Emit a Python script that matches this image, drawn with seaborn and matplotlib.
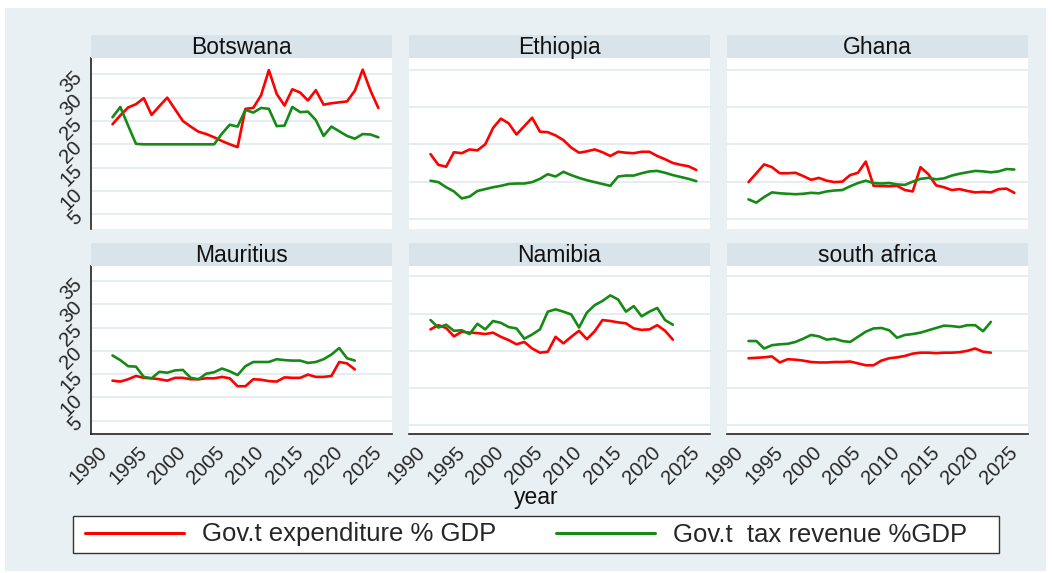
import matplotlib
matplotlib.use("Agg")
import matplotlib.pyplot as plt
import seaborn as sns
import pandas as pd
from matplotlib.patches import Rectangle
from matplotlib.lines import Line2D

# ---------------- data ----------------
countries = ["Botswana", "Ethiopia", "Ghana", "Mauritius", "Namibia", "south africa"]
series_names = ["Gov.t expenditure % GDP", "Gov.t  tax revenue %GDP"]
years_long = list(range(1991, 2026))
years_short = list(range(1991, 2023))
x_ticks = [1990, 1995, 2000, 2005, 2010, 2015, 2020, 2025]
y_ticks = [5, 10, 15, 20, 25, 30, 35]

botswana_exp = [24.3, 26.2, 27.9, 28.6, 29.9, 26.3, 28.2, 30.0, 27.5, 25.0,
                23.8, 22.7, 22.2, 21.5, 20.7, 20.0, 19.4, 27.6, 27.8, 30.5,
                35.9, 30.8, 28.3, 31.8, 31.1, 29.4, 31.6, 28.5, 28.8, 29.0,
                29.2, 31.5, 36.0, 31.5, 27.8]
botswana_tax = [25.8, 28.0, 24.0, 20.1, 20.0, 20.0, 20.0, 20.0, 20.0, 20.0,
                20.0, 20.0, 20.0, 20.0, 22.3, 24.2, 23.8, 27.4, 26.8, 27.8,
                27.6, 23.9, 24.0, 28.0, 26.9, 27.0, 25.2, 21.8, 23.8, 22.8,
                21.8, 21.2, 22.2, 22.1, 21.5]
ethiopia_exp = [17.9, 15.6, 15.2, 18.3, 18.1, 18.9, 18.7, 20.0, 23.5, 25.5,
                24.5, 22.1, 23.9, 25.7, 22.7, 22.6, 21.9, 20.9, 19.3, 18.2,
                18.5, 18.9, 18.3, 17.5, 18.4, 18.2, 18.1, 18.4, 18.4, 17.5,
                16.8, 16.0, 15.6, 15.3, 14.5]
ethiopia_tax = [12.2, 11.9, 10.8, 9.9, 8.4, 8.8, 10.0, 10.4, 10.8, 11.1,
                11.5, 11.6, 11.6, 11.9, 12.6, 13.6, 13.1, 14.1, 13.4, 12.8,
                12.3, 11.9, 11.5, 11.1, 13.1, 13.3, 13.3, 13.8, 14.2, 14.3,
                13.9, 13.4, 13.0, 12.6, 12.1]
ghana_exp = [11.9, 13.8, 15.7, 15.1, 13.8, 13.8, 13.9, 13.2, 12.4, 12.8,
             12.2, 11.9, 12.0, 13.4, 13.9, 16.3, 11.1, 11.05, 11.0, 11.1,
             10.2, 9.9, 15.1, 13.6, 11.2, 10.8, 10.2, 10.4, 10.0, 9.7,
             9.8, 9.7, 10.4, 10.5, 9.6]
ghana_tax = [8.2, 7.5, 8.7, 9.7, 9.5, 9.4, 9.3, 9.4, 9.6, 9.5,
             9.9, 10.1, 10.2, 11.0, 11.7, 12.2, 11.7, 11.6, 11.7, 11.4,
             11.3, 12.0, 12.6, 12.8, 12.5, 12.7, 13.3, 13.7, 14.0, 14.3,
             14.2, 14.0, 14.2, 14.7, 14.6]
mauritius_exp = [13.6, 13.4, 13.9, 14.6, 14.2, 14.1, 13.9, 13.6, 14.2, 14.2,
                 13.9, 13.9, 14.1, 14.1, 14.4, 14.1, 12.4, 12.4, 13.9, 13.8,
                 13.5, 13.4, 14.3, 14.2, 14.2, 14.9, 14.4, 14.4, 14.6, 17.6,
                 17.3, 16.0]
mauritius_tax = [19.0, 18.0, 16.7, 16.6, 14.4, 14.1, 15.5, 15.3, 15.8, 15.9,
                 14.2, 13.9, 15.1, 15.4, 16.2, 15.6, 14.8, 16.7, 17.6, 17.6,
                 17.6, 18.2, 18.0, 17.9, 17.9, 17.4, 17.6, 18.2, 19.2, 20.6,
                 18.4, 17.9]
namibia_exp = [24.6, 25.5, 24.9, 23.1, 24.1, 23.9, 23.8, 23.6, 23.9, 23.0,
               22.3, 21.4, 21.9, 20.5, 19.6, 19.8, 23.0, 21.6, 23.0, 24.3,
               22.5, 24.2, 26.6, 26.4, 26.1, 25.9, 24.8, 24.5, 24.6, 25.5,
               24.3, 22.4]
namibia_tax = [26.6, 25.0, 25.6, 24.3, 24.4, 23.6, 25.8, 24.6, 26.4, 26.0,
               25.1, 24.8, 22.6, 23.5, 24.6, 28.4, 28.9, 28.4, 27.8, 25.0,
               28.2, 29.8, 30.7, 31.9, 31.0, 28.4, 29.6, 27.4, 28.4, 29.2,
               26.6, 25.6]
southafrica_exp = [18.4, 18.5, 18.6, 18.8, 17.5, 18.2, 18.1, 17.9, 17.6, 17.5,
                   17.5, 17.6, 17.6, 17.7, 17.3, 16.9, 16.9, 17.9, 18.4, 18.6,
                   18.9, 19.4, 19.6, 19.6, 19.5, 19.6, 19.6, 19.7, 20.0, 20.5,
                   19.8, 19.6]
southafrica_tax = [22.1, 22.1, 20.5, 21.2, 21.4, 21.5, 21.9, 22.6, 23.4, 23.1,
                   22.4, 22.6, 22.1, 21.9, 23.0, 24.1, 24.8, 24.9, 24.4, 22.8,
                   23.4, 23.6, 23.9, 24.4, 24.9, 25.4, 25.3, 25.1, 25.5, 25.5,
                   24.2, 26.2]

panel_data = {
    "Botswana": (years_long, botswana_exp, botswana_tax),
    "Ethiopia": (years_long, ethiopia_exp, ethiopia_tax),
    "Ghana": (years_long, ghana_exp, ghana_tax),
    "Mauritius": (years_short, mauritius_exp, mauritius_tax),
    "Namibia": (years_short, namibia_exp, namibia_tax),
    "south africa": (years_short, southafrica_exp, southafrica_tax),
}

rows = []
for c, (yrs, e, t) in panel_data.items():
    for y, v in zip(yrs, e):
        rows.append((c, y, series_names[0], v))
    for y, v in zip(yrs, t):
        rows.append((c, y, series_names[1], v))
df = pd.DataFrame(rows, columns=["country", "year", "series", "value"])

# ---------------- style ----------------
sns.set_style("white")
plt.rcParams["font.family"] = ["Liberation Sans", "DejaVu Sans"]

W, H = 1052, 573
BG = "#E9F0F3"
STRIP = "#D8E3EA"
GRID = "#E4ECEF"
RED = "#FF0000"
GREEN = "#168A16"
palette = {series_names[0]: RED, series_names[1]: GREEN}

fig = plt.figure(figsize=(W / 100, H / 100), dpi=100)
fig.patch.set_facecolor("white")
fig.patches.append(Rectangle((5 / W, 1 - 571 / H), 1041 / W, 563 / H,
                             transform=fig.transFigure, facecolor=BG,
                             edgecolor="none", zorder=-10))


def rect(x0, y0, x1, y1):
    return [x0 / W, 1 - y1 / H, (x1 - x0) / W, (y1 - y0) / H]


cols_px = [(91, 392), (409, 710), (727, 1028)]
rows_px = [dict(strip=(35, 58), plot=(58, 229), ylim=(1.85, 38.5)),
           dict(strip=(243, 266), plot=(266, 434), ylim=(2.15, 38.2))]

for i, country in enumerate(countries):
    r, c = divmod(i, 3)
    x0, x1 = cols_px[c]
    rp = rows_px[r]
    ax = fig.add_axes(rect(x0, rp["plot"][0], x1, rp["plot"][1]))
    ax.set_facecolor("white")
    sub = df[df["country"] == country]
    sns.lineplot(data=sub, x="year", y="value", hue="series",
                 hue_order=series_names, palette=palette, ax=ax,
                 legend=False, linewidth=1.9, estimator=None)
    ax.set_xlim(1988.25, 2026.75)
    ax.set_ylim(*rp["ylim"])
    ax.set_xlabel("")
    ax.set_ylabel("")
    for s in ["top", "right"]:
        ax.spines[s].set_visible(False)
    if c == 0:
        ax.set_yticks(y_ticks)
        ax.set_yticklabels([str(v) for v in y_ticks], rotation=45,
                           ha="right", va="center", rotation_mode="anchor",
                           fontsize=14.5)
        ax.tick_params(axis="y", length=4.5, width=1.1, color="#222222", pad=4)
        ax.spines["left"].set_color("#222222")
        ax.spines["left"].set_linewidth(1.2)
    else:
        ax.set_yticks([4, 12, 20, 28, 36])
        ax.set_yticklabels([])
        ax.tick_params(axis="y", length=0)
        ax.spines["left"].set_visible(False)
    ax.yaxis.grid(True, color=GRID, linewidth=1.3)
    ax.set_axisbelow(True)
    if r == 1:
        ax.set_xticks(x_ticks)
        ax.set_xticklabels([str(v) for v in x_ticks], rotation=45,
                           ha="right", va="center", rotation_mode="anchor",
                           fontsize=14.5)
        ax.tick_params(axis="x", length=5, width=1.1, color="#222222", pad=6)
        ax.spines["bottom"].set_color("#222222")
        ax.spines["bottom"].set_linewidth(1.2)
    else:
        ax.set_xticks([])
        ax.spines["bottom"].set_visible(False)

    sax = fig.add_axes(rect(x0, rp["strip"][0], x1, rp["strip"][1]))
    sax.set_facecolor(STRIP)
    sax.set_xticks([])
    sax.set_yticks([])
    for s in sax.spines.values():
        s.set_visible(False)
    sax.text(0.5, 0.47, country, ha="center", va="center", fontsize=16.5,
             transform=sax.transAxes, color="#111111")

fig.text(536 / W, 1 - 504 / H, "year", ha="center", va="baseline",
         fontsize=16.5, color="#111111")

# legend frame drawn explicitly, entries placed inside it
fig.patches.append(Rectangle((73 / W, 1 - 553 / H), 926 / W, 37 / H,
                             transform=fig.transFigure, facecolor="white",
                             edgecolor="#333333", linewidth=1.0, zorder=5))
handles = [Line2D([], [], color=RED, linewidth=2.2),
           Line2D([], [], color=GREEN, linewidth=2.2)]
fs = 18.5
em = fs * 100 / 72
leg = fig.legend(handles, series_names, loc="center left",
                 bbox_to_anchor=(85 / W, 1 - 534.5 / H),
                 ncol=2, frameon=False, fontsize=fs,
                 handlelength=99 / em, handletextpad=18 / em,
                 columnspacing=60 / em,
                 borderpad=0, borderaxespad=0)
leg.set_zorder(6)

fig.savefig("out.png", dpi=100, facecolor=fig.get_facecolor())
